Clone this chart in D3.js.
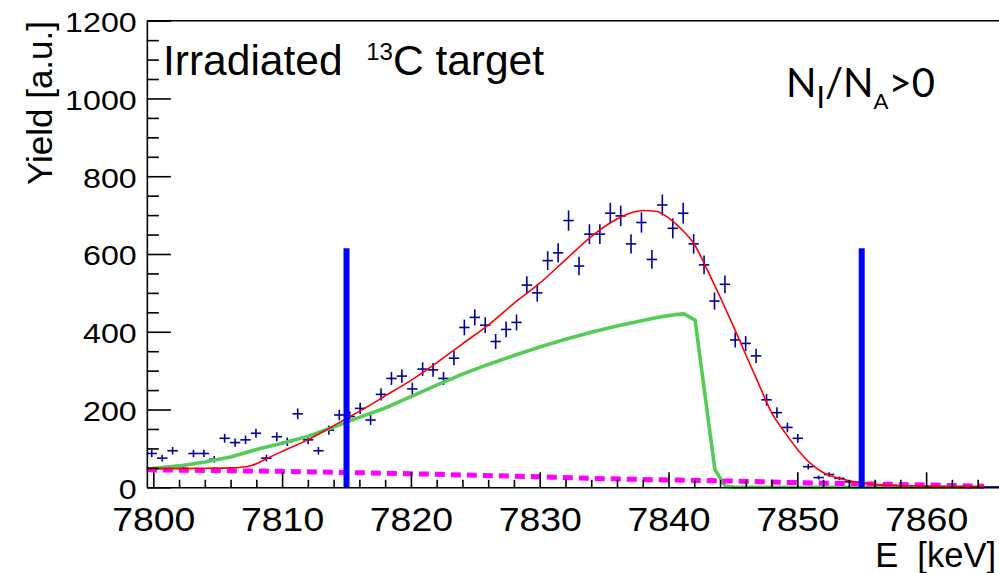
<!DOCTYPE html>
<html>
<head>
<meta charset="utf-8">
<script src="https://cdn.jsdelivr.net/npm/d3@7/dist/d3.min.js"></script>
<style>
  html, body { margin: 0; padding: 0; background: #fff; }
  svg { display: block; }
  text { font-family: "Liberation Sans", Arial, Helvetica, sans-serif; fill: #000; }
</style>
</head>
<body>
<svg id="chart" width="999" height="573"></svg>
<script>
// ---------------- data ----------------
const energies = [7799.88,7800.69,7801.50,7802.31,7803.12,7803.93,7804.73,7805.54,7806.35,7807.16,
  7807.97,7808.78,7809.59,7810.40,7811.21,7812.02,7812.82,7813.63,7814.44,7815.25,
  7816.06,7816.87,7817.68,7818.49,7819.30,7820.11,7820.91,7821.72,7822.53,7823.34,
  7824.15,7824.96,7825.77,7826.58,7827.39,7828.20,7829.00,7829.81,7830.62,7831.43,
  7832.24,7833.05,7833.86,7834.67,7835.48,7836.29,7837.09,7837.90,7838.71,7839.52,
  7840.33,7841.14,7841.95,7842.76,7843.57,7844.38,7845.18,7845.99,7846.80,7847.61,
  7848.42,7849.23,7850.04,7850.85,7851.66,7852.47,7853.27,7854.08,7854.89,7855.70,
  7856.51,7857.32,7858.13,7858.94,7859.75,7860.56,7861.36,7862.17,7862.98,7863.79,
  7864.60,7865.41];
const yields = [87,75,94,49,87,87,72,126,115,122,
  139,75,130,117,189,122,94,147,186,182,
  203,173,239,280,286,253,304,302,280,332,
  411,437,417,375,406,424,520,500,583,603,
  686,569,651,651,705,698,626,681,586,726,
  666,705,626,572,479,522,379,370,338,225,
  192,154,126,53,25,33,23,14,10,11,
  6,5,4,3,3,2,2,1,2,1,
  1,1];
const binHalfWidth = 0.405;

// total fit (red)
const fitE = [7799.5,7802,7804,7806,7807.5,7809,7810.5,7812,7813.5,7815,7816.5,7818,7820,7822,7824,7826,7828,7830,7832,7834,7836,7837,7838,7839,7840,7841,7842,7843,7844,7845,7846,7847,7848,7849,7850,7851,7852,7853,7854,7855,7856,7858,7860,7862,7864.5];
const fitY = [48,48,49,50,55,77,100,122,149,177,205,235,275,320,369,417,473,525,585,645,690,705,712,710,693,664,625,560,490,417,341,266,192,143,98,62,38,25,17,11,7,4,3,2,2];

// simulated component (green)
const simE = [7799.5,7802,7804,7806,7808,7810,7812,7814,7816,7818,7820,7822,7824,7826,7828,7830,7832,7834,7836,7838,7839.5,7840.5,7841.2,7842.06,7843.6,7844.4,7845.2,7864.5];
const simY = [47,55,65,78,97,113,131,155,180,204,233,263,291,316,339,361,381,399,415,429,439,444,446,430,46,3,0,0];

// background (magenta dashed)
const bkgE = [7799.5,7805,7810,7815,7820,7825,7830,7835,7840,7845,7850,7855,7860,7864.5];
const bkgY = [45,43,41,38,35,31,27,22,19,16,12,9,6,3];

// integration limits (blue)
const cutE = [7815, 7855];
const cutTop = 615;

// axes
const xMajor = [7800,7810,7820,7830,7840,7850,7860];
const xMajorLabels = ["7800","7810","7820","7830","7840","7850","7860"];
const xMinor = [7802,7804,7806,7808,7812,7814,7816,7818,7822,7824,7826,7828,7832,7834,7836,7838,7842,7844,7846,7848,7852,7854,7856,7858,7862,7864];
const yMajor = [0,200,400,600,800,1000,1200];
const yMajorLabels = ["0","200","400","600","800","1000","1200"];
const yMinor = [50,100,150,250,300,350,450,500,550,650,700,750,850,900,950,1050,1100,1150];

const xTitle = "E\u00a0\u00a0[keV]";
const yTitle = "Yield [a.u.]";

// ---------------- layout ----------------
const svg = d3.select("#chart");
svg.append("rect").attr("width", 999).attr("height", 573).attr("fill", "#fff");

const x = d3.scaleLinear().domain([7799.5, 7866]).range([146.86, 1003.4]);
const y = d3.scaleLinear().domain([0, 1200]).range([487.3, 20.7]);

const plot = svg.append("g");

// frame top line
svg.append("line").attr("x1", x.range()[0]).attr("x2", 1003).attr("y1", y(1200)).attr("y2", y(1200))
  .attr("stroke", "#000").attr("stroke-width", 1.6);

// X axis
const xAxisG = svg.append("g").attr("transform", `translate(0,${y(0)})`);
xAxisG.call(d3.axisBottom(x).tickValues(xMajor).tickSize(-15).tickPadding(21)
  .tickFormat((d, i) => xMajorLabels[i]).tickSizeOuter(0));
xAxisG.select(".domain").attr("stroke-width", 1.6);
xAxisG.selectAll(".tick line").attr("stroke-width", 1.6);
xAxisG.selectAll(".tick text").attr("font-size", 32.5).attr("transform", "scale(1.15,1)")
  .style("font-family", "'Liberation Sans', Arial, sans-serif").attr("fill", "#000");
const xMinorG = svg.append("g").attr("transform", `translate(0,${y(0)})`);
xMinorG.call(d3.axisBottom(x).tickValues(xMinor).tickSize(-7.5).tickFormat("").tickSizeOuter(0));
xMinorG.select(".domain").remove();
xMinorG.selectAll(".tick line").attr("stroke-width", 1.6);

// Y axis
const yAxisG = svg.append("g").attr("transform", `translate(${x.range()[0]},0)`);
yAxisG.call(d3.axisLeft(y).tickValues(yMajor).tickSize(-24).tickPadding(9)
  .tickFormat((d, i) => yMajorLabels[i]).tickSizeOuter(0));
yAxisG.select(".domain").attr("stroke-width", 1.6);
yAxisG.selectAll(".tick line").attr("stroke-width", 1.6);
yAxisG.selectAll(".tick text").attr("font-size", 28.5).attr("dy", "0.38em").attr("transform", "scale(1.13,1)")
  .style("font-family", "'Liberation Sans', Arial, sans-serif").attr("fill", "#000");
const yMinorG = svg.append("g").attr("transform", `translate(${x.range()[0]},0)`);
yMinorG.call(d3.axisLeft(y).tickValues(yMinor).tickSize(-12).tickFormat("").tickSizeOuter(0));
yMinorG.select(".domain").remove();
yMinorG.selectAll(".tick line").attr("stroke-width", 1.6);

// ---------------- data marks ----------------
const pts = energies.map((e, i) => ({ e, v: yields[i] }));
const crosses = plot.append("g").attr("stroke", "#000099").attr("stroke-width", 1.6);
crosses.selectAll("line.h").data(pts).join("line").attr("class", "h")
  .attr("x1", d => x(d.e - binHalfWidth)).attr("x2", d => x(d.e + binHalfWidth))
  .attr("y1", d => y(d.v)).attr("y2", d => y(d.v));
crosses.selectAll("line.v").data(pts).join("line").attr("class", "v")
  .attr("x1", d => x(d.e)).attr("x2", d => x(d.e))
  .attr("y1", d => y(d.v + Math.sqrt(d.v))).attr("y2", d => y(Math.max(0, d.v - Math.sqrt(d.v))));

// green simulated component
plot.append("path").datum(simE.map((e, i) => [e, simY[i]]))
  .attr("fill", "none").attr("stroke", "#55cc55").attr("stroke-width", 3.6).attr("stroke-linejoin", "round")
  .attr("d", d3.line().x(d => x(d[0])).y(d => y(d[1])));

// magenta background
plot.append("path").datum(bkgE.map((e, i) => [e, bkgY[i]]))
  .attr("fill", "none").attr("stroke", "#ff00ff").attr("stroke-width", 5).attr("stroke-dasharray", "10,6")
  .attr("d", d3.line().x(d => x(d[0])).y(d => y(d[1])));

// red fit
plot.append("path").datum(fitE.map((e, i) => [e, fitY[i]]))
  .attr("fill", "none").attr("stroke", "#ff0000").attr("stroke-width", 1.6)
  .attr("d", d3.line().curve(d3.curveMonotoneX).x(d => x(d[0])).y(d => y(d[1])));

// blue limits
plot.selectAll("line.cut").data(cutE).join("line").attr("class", "cut")
  .attr("x1", d => x(d)).attr("x2", d => x(d)).attr("y1", y(0)).attr("y2", y(cutTop))
  .attr("stroke", "#0000ff").attr("stroke-width", 6);

// ---------------- texts ----------------
svg.append("text").attr("x", 996).attr("y", 567).attr("text-anchor", "end")
  .attr("font-size", 34.5).text(xTitle);
svg.append("text").attr("transform", "translate(51.5,21) rotate(-90)").attr("text-anchor", "end")
  .attr("font-size", 35).text(yTitle);

const t1 = svg.append("text").attr("x", 163).attr("y", 75).attr("font-size", 42.5);
t1.append("tspan").text("Irradiated\u00a0\u00a0");
t1.append("tspan").attr("font-size", 24).attr("dy", -15).text("13");
t1.append("tspan").attr("dy", 15).text("C target");

const t2 = svg.append("text").attr("x", 786).attr("y", 97).attr("font-size", 40)
  .style("font-family", "Lato, 'Open Sans', sans-serif");
t2.append("tspan").text("N");
t2.append("tspan").attr("font-size", 30).attr("dy", 11).text("I");
t2.append("tspan").attr("dy", -11).text("/N");
t2.append("tspan").attr("font-size", 22).attr("dy", 12).text("A");
t2.append("tspan").attr("dy", -12).text(">0");
</script>
</body>
</html>
